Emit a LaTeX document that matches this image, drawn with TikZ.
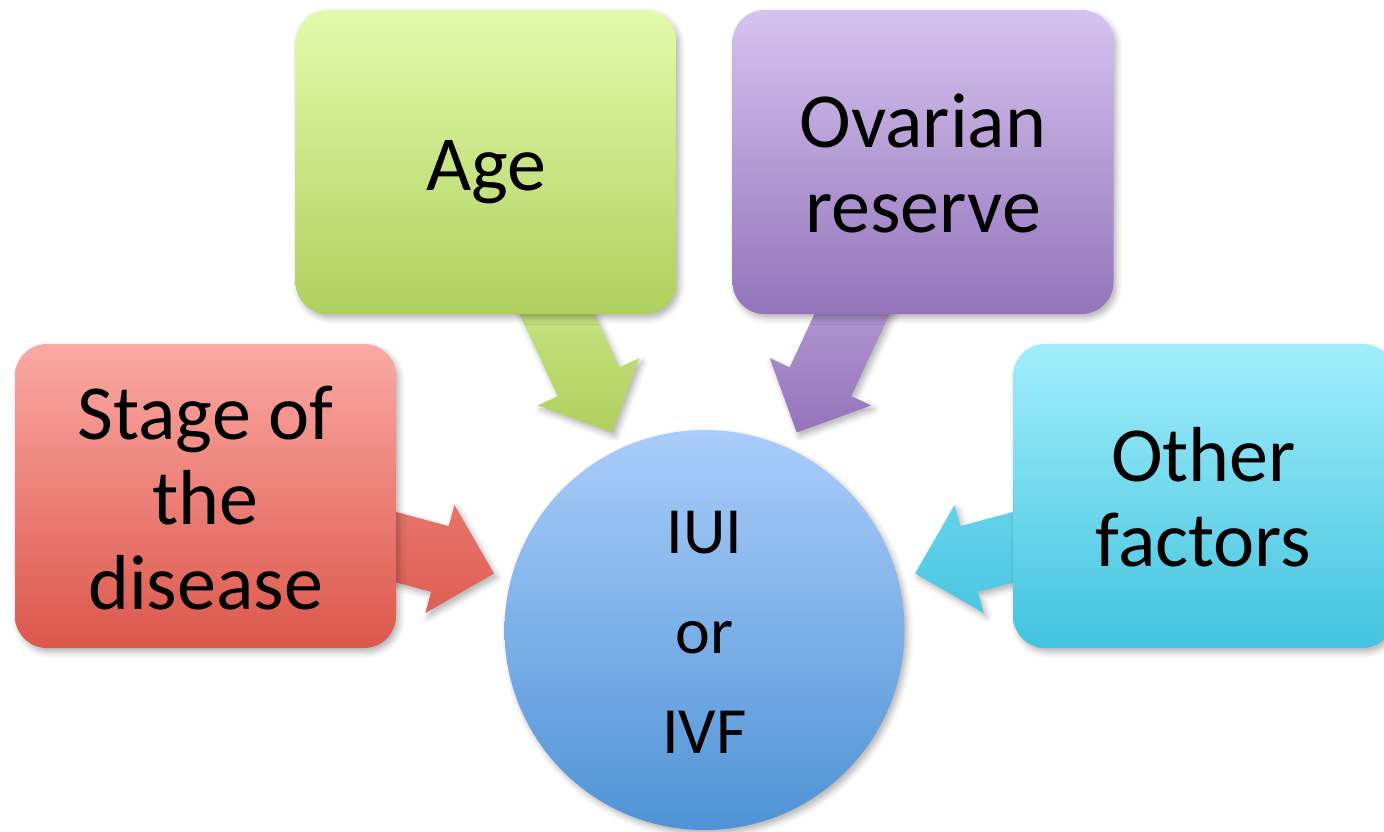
\documentclass[tikz,border=0pt]{standalone}
\usepackage{fontspec}
\setmainfont{Carlito}
\usepackage{tikz}
\usetikzlibrary{calc,shadows.blur}
\pgfdeclarelayer{bg}
\pgfsetlayers{bg,main}

\definecolor{redtop}{HTML}{FBA9A4}
\definecolor{redbot}{HTML}{DC574B}
\definecolor{greentop}{HTML}{E2FBAD}
\definecolor{greenbot}{HTML}{AFD05E}
\definecolor{purptop}{HTML}{D5C3EF}
\definecolor{purpbot}{HTML}{9474BB}
\definecolor{cyantop}{HTML}{A2EEFB}
\definecolor{cyanbot}{HTML}{42C3DF}
\definecolor{bluetop}{HTML}{AACDFA}
\definecolor{bluebot}{HTML}{4F93D6}

\newcommand\ascstrut{\rule{0pt}{0.974em}}
\newcommand\descstrut{\rule[-0.256em]{0pt}{0pt}}

\begin{document}
\begin{tikzpicture}[x=0.5pt,y=-0.5pt,
  soft/.style={blur shadow={shadow xshift=1.5pt,shadow yshift=-2pt,shadow blur radius=3pt,shadow opacity=30}},
  box/.style={soft,rounded corners=16pt,minimum width=190.5pt,minimum height=152pt,inner sep=0pt,align=center,
    font=\fontsize{39pt}{42.5pt}\selectfont},
  hub/.style={soft,circle,minimum size=200pt,inner sep=0pt,align=center,top color=bluetop,bottom color=bluebot,
    font=\fontsize{33pt}{50pt}\selectfont}]
  \useasboundingbox (0,0) rectangle (1384,831);
  \node[box,top color=redtop,bottom color=redbot] (stage) at (205.5,496) {\ascstrut Stage of\\the\\disease\descstrut};
  \node[box,top color=greentop,bottom color=greenbot] (age) at (486,162) {\ascstrut Age\descstrut};
  \node[box,top color=purptop,bottom color=purpbot] (ovar) at (923,162) {\ascstrut Ovarian\\reserve\descstrut};
  \node[box,top color=cyantop,bottom color=cyanbot] (other) at (1203.5,496) {\ascstrut Other\\factors\descstrut};
  \node[hub] (iui) at (704.5,630) {\ascstrut IUI\\or\\IVF\descstrut};
  % block arrows from each box towards the circle
  \begin{pgfonlayer}{bg}
  \foreach \bx/\ct/\cb in {stage/redtop!45!redbot/redbot!90!redtop, age/greentop/greenbot,
      ovar/purptop/purpbot, other/cyantop!45!cyanbot/cyanbot!90!cyantop} {
    \coordinate (tip) at ($(iui)!109pt!(\bx)$);
    \coordinate (neck) at ($(tip)!28pt!(\bx)$);
    \shade[soft,top color=\ct,bottom color=\cb]
      ($(\bx)!17pt!90:(tip)$) -- ($(neck)!17pt!90:(tip)$) -- ($(neck)!28pt!90:(tip)$) -- (tip)
      -- ($(neck)!28pt!-90:(tip)$) -- ($(neck)!17pt!-90:(tip)$) -- ($(\bx)!17pt!-90:(tip)$) -- cycle;
  }
  \end{pgfonlayer}
\end{tikzpicture}
\end{document}
